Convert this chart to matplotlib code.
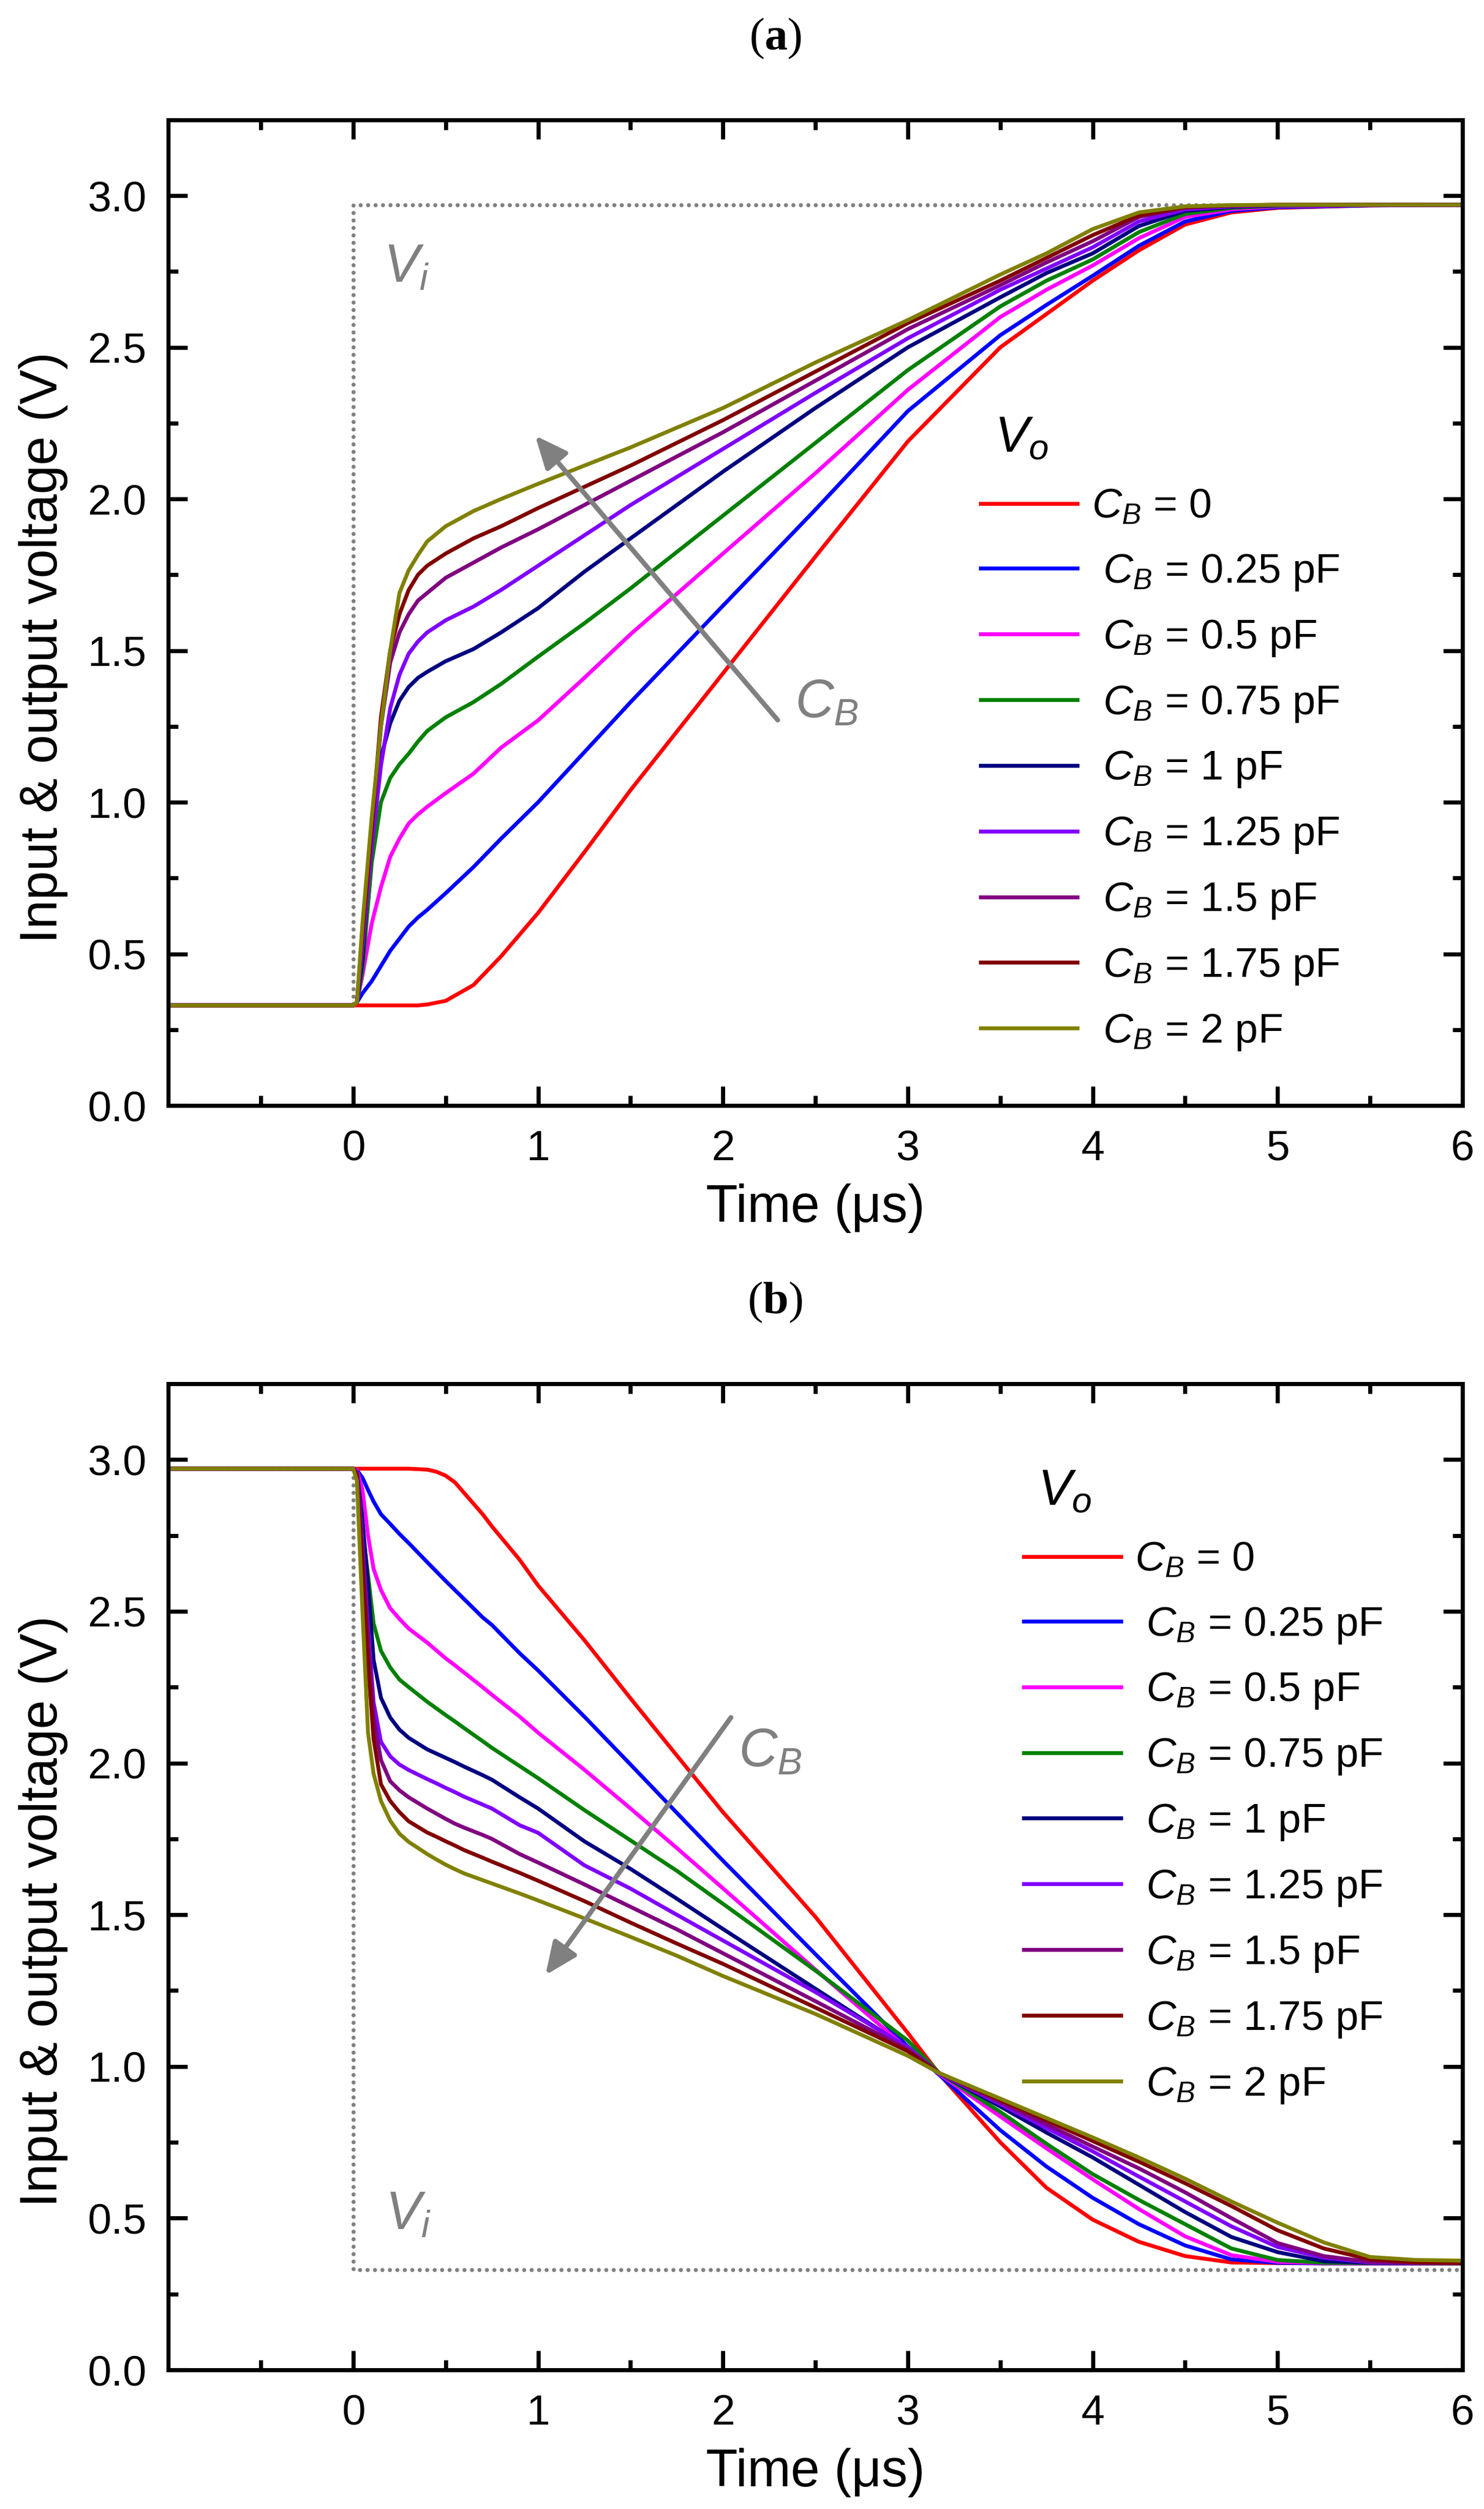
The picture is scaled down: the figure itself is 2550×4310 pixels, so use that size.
import matplotlib
matplotlib.use("Agg")
import matplotlib.pyplot as plt
import numpy as np
from matplotlib.ticker import FormatStrFormatter

plt.rcParams['font.family'] = ['Liberation Sans', 'DejaVu Sans']
plt.rcParams['mathtext.fontset'] = 'custom'
plt.rcParams['mathtext.rm'] = 'Liberation Sans'
plt.rcParams['mathtext.it'] = 'Liberation Sans:italic'
plt.rcParams['mathtext.bf'] = 'Liberation Serif:bold'

# ---------------- data ----------------
labels = [r'$C_B$ = 0', r' $C_B$ = 0.25 pF', r' $C_B$ = 0.5 pF', r' $C_B$ = 0.75 pF',
          r' $C_B$ = 1 pF', r' $C_B$ = 1.25 pF', r' $C_B$ = 1.5 pF', r' $C_B$ = 1.75 pF',
          r' $C_B$ = 2 pF']
colors = ['#FF0000', '#0000FF', '#FF00FF', '#008000', '#000080',
          '#8000FF', '#800080', '#800000', '#808000']

# input step (V_i)
vi_t_a = [-1, 0, 0, 6]
vi_v_a = [0.33, 0.33, 2.97, 2.97]
vi_t_b = [-1, 0, 0, 6]
vi_v_b = [2.97, 2.97, 0.33, 0.33]

# panel (a): rising output
t_a = [-1, 0, 0.02, 0.05, 0.1, 0.15, 0.2, 0.25, 0.3, 0.35, 0.4, 0.5, 0.65, 0.8, 1.0, 1.25,
       1.5, 2.0, 2.5, 3.0, 3.5, 3.75, 4.0, 4.25, 4.5, 4.75, 5.0, 5.5, 6.0]
va_0 = [.33, .33, .33, .33, .33, .33, .33, .33, .33, .33, .333, .345, .397, .492, .635, .835,
        1.04, 1.425, 1.81, 2.19, 2.50, 2.61, 2.72, 2.82, 2.905, 2.945, 2.96, 2.968, 2.97]
va_025 = [.33, .33, .34, .37, .41, .46, .51, .55, .59, .62, .645, .70, .786, .88, 1.0, 1.165,
          1.33, 1.648, 1.965, 2.29, 2.54, 2.64, 2.736, 2.835, 2.915, 2.95, 2.962, 2.968, 2.97]
va_05 = [.33, .33, .34, .43, .60, .72, .82, .88, .93, .96, .985, 1.03, 1.094, 1.18, 1.27, 1.41,
         1.554, 1.82, 2.085, 2.36, 2.60, 2.69, 2.77, 2.86, 2.93, 2.955, 2.965, 2.969, 2.97]
va_075 = [.33, .33, .34, .45, .80, 1.00, 1.08, 1.125, 1.16, 1.20, 1.235, 1.28, 1.33, 1.39,
          1.48, 1.59, 1.705, 1.945, 2.185, 2.425, 2.635, 2.72, 2.79, 2.88, 2.94, 2.96, 2.967,
          2.97, 2.97]
va_1 = [.33, .33, .34, .48, .90, 1.15, 1.26, 1.335, 1.38, 1.41, 1.43, 1.465, 1.505, 1.56, 1.64,
        1.76, 1.87, 2.09, 2.30, 2.50, 2.665, 2.745, 2.81, 2.90, 2.95, 2.963, 2.968, 2.97, 2.97]
va_125 = [.33, .33, .34, .52, .85, 1.12, 1.31, 1.42, 1.49, 1.53, 1.56, 1.60, 1.645, 1.70,
          1.78, 1.88, 1.98, 2.165, 2.35, 2.53, 2.69, 2.76, 2.83, 2.915, 2.955, 2.965, 2.969,
          2.97, 2.97]
va_15 = [.33, .33, .34, .55, .90, 1.25, 1.46, 1.56, 1.62, 1.665, 1.69, 1.74, 1.79, 1.84, 1.90,
         1.98, 2.06, 2.22, 2.39, 2.56, 2.705, 2.78, 2.85, 2.93, 2.96, 2.967, 2.97, 2.97, 2.97]
va_175 = [.33, .33, .34, .57, .92, 1.28, 1.50, 1.62, 1.70, 1.75, 1.78, 1.82, 1.87, 1.91, 1.97,
          2.04, 2.11, 2.26, 2.42, 2.58, 2.72, 2.795, 2.87, 2.935, 2.963, 2.968, 2.97, 2.97,
          2.97]
va_2 = [.33, .33, .34, .60, .95, 1.25, 1.50, 1.69, 1.765, 1.815, 1.86, 1.91, 1.96, 2.0, 2.05,
        2.11, 2.17, 2.30, 2.45, 2.59, 2.74, 2.81, 2.89, 2.945, 2.965, 2.969, 2.97, 2.97, 2.97]

# panel (b): falling output
t_b = [-1, 0, .02, .05, .08, .11, .15, .2, .25, .3, .4, .45, .5, .55, .6, .7, .75, .9, 1.0,
       1.25, 1.5, 1.75, 2.0, 2.5, 3.0, 3.17, 3.5, 3.75, 4.0, 4.25, 4.5, 4.75, 5.0, 5.25, 5.5,
       5.75, 6.0]
vb_0 = [2.97, 2.97, 2.97, 2.97, 2.97, 2.97, 2.97, 2.97, 2.97, 2.97, 2.967, 2.96, 2.947, 2.925,
        2.89, 2.82, 2.78, 2.67, 2.585, 2.405, 2.213, 2.025, 1.838, 1.493, 1.11, 0.975, 0.75,
        0.60, 0.495, 0.422, 0.375, 0.354, 0.352, 0.351, 0.351, 0.351, 0.351]
vb_025 = [2.97, 2.97, 2.965, 2.94, 2.90, 2.862, 2.82, 2.788, 2.755, 2.725, 2.662, 2.631, 2.60,
          2.57, 2.54, 2.48, 2.455, 2.362, 2.305, 2.153, 1.995, 1.836, 1.678, 1.37, 1.065, 0.972,
          0.79, 0.67, 0.567, 0.48, 0.41, 0.364, 0.353, 0.351, 0.351, 0.351, 0.351]
vb_05 = [2.97, 2.97, 2.965, 2.90, 2.75, 2.64, 2.57, 2.51, 2.475, 2.443, 2.397, 2.371, 2.345,
         2.322, 2.298, 2.25, 2.225, 2.153, 2.10, 1.978, 1.85, 1.72, 1.587, 1.319, 1.057, 0.975,
         0.835, 0.73, 0.628, 0.53, 0.44, 0.378, 0.356, 0.352, 0.351, 0.351, 0.351]
vb_075 = [2.97, 2.97, 2.96, 2.77, 2.62, 2.46, 2.37, 2.315, 2.275, 2.25, 2.202, 2.18, 2.158,
          2.137, 2.115, 2.072, 2.05, 1.99, 1.95, 1.845, 1.745, 1.645, 1.536, 1.316, 1.085,
          0.978, 0.85, 0.745, 0.645, 0.56, 0.48, 0.40, 0.362, 0.353, 0.352, 0.351, 0.351]
vb_1 = [2.97, 2.97, 2.96, 2.80, 2.59, 2.34, 2.215, 2.15, 2.11, 2.083, 2.045, 2.031, 2.017,
        2.003, 1.988, 1.96, 1.945, 1.887, 1.85, 1.742, 1.651, 1.553, 1.453, 1.256, 1.06, 0.977,
        0.868, 0.782, 0.70, 0.61, 0.52, 0.438, 0.388, 0.358, 0.353, 0.352, 0.352]
vb_125 = [2.97, 2.97, 2.96, 2.72, 2.45, 2.20, 2.07, 2.022, 1.995, 1.977, 1.947, 1.933, 1.918,
          1.904, 1.889, 1.863, 1.85, 1.795, 1.77, 1.663, 1.586, 1.50, 1.415, 1.245, 1.063,
          0.977, 0.876, 0.797, 0.72, 0.637, 0.555, 0.473, 0.405, 0.37, 0.354, 0.352, 0.352]
vb_15 = [2.97, 2.97, 2.955, 2.70, 2.42, 2.15, 2.01, 1.94, 1.91, 1.887, 1.85, 1.833, 1.816,
         1.80, 1.787, 1.763, 1.75, 1.70, 1.672, 1.60, 1.526, 1.452, 1.373, 1.215, 1.056, 0.978,
         0.882, 0.809, 0.736, 0.664, 0.585, 0.50, 0.418, 0.375, 0.356, 0.353, 0.352]
vb_175 = [2.97, 2.97, 2.95, 2.65, 2.33, 2.08, 1.93, 1.875, 1.838, 1.808, 1.771, 1.757, 1.742,
          1.728, 1.713, 1.688, 1.675, 1.638, 1.612, 1.545, 1.474, 1.405, 1.338, 1.194, 1.05,
          0.978, 0.889, 0.822, 0.754, 0.686, 0.615, 0.54, 0.46, 0.40, 0.364, 0.354, 0.352]
vb_2 = [2.97, 2.97, 2.93, 2.50, 2.10, 1.965, 1.875, 1.81, 1.767, 1.74, 1.70, 1.682, 1.665,
        1.65, 1.636, 1.614, 1.603, 1.57, 1.547, 1.488, 1.427, 1.365, 1.298, 1.173, 1.035,
        0.978, 0.894, 0.83, 0.766, 0.70, 0.63, 0.555, 0.485, 0.42, 0.372, 0.362, 0.36]

series_a = [va_0, va_025, va_05, va_075, va_1, va_125, va_15, va_175, va_2]
series_b = [vb_0, vb_025, vb_05, vb_075, vb_1, vb_125, vb_15, vb_175, vb_2]

# ---------------- figure ----------------
W, H = 2550, 4310
fig = plt.figure(figsize=(W / 300, H / 300), dpi=300)

GRAY = '#808080'


def setup_axes(ax):
    ax.set_xlim(-1, 6)
    ax.set_ylim(0, 3.25)
    ax.set_xticks(np.arange(0, 7, 1))
    ax.set_xticks(np.arange(-0.5, 6, 1.0), minor=True)
    ax.set_yticks(np.arange(0, 3.01, 0.5))
    ax.set_yticks(np.arange(0.25, 3.3, 0.5), minor=True)
    ax.yaxis.set_major_formatter(FormatStrFormatter('%.1f'))
    ax.tick_params(which='both', direction='in', top=True, right=True, width=1.7,
                   labelsize=17.5)
    ax.tick_params(which='major', length=7.9)
    ax.tick_params(which='minor', length=4.1)
    ax.tick_params(axis='x', pad=10)
    ax.tick_params(axis='y', pad=9)
    for s in ax.spines.values():
        s.set_linewidth(1.7)
    ax.set_xlabel('Time (μs)', fontsize=21.5)
    ax.set_ylabel('Input & output voltage (V)', fontsize=21.5)
    ax.xaxis.set_label_coords(0.5, -0.079)
    ax.yaxis.set_label_coords(-0.0775, 0.465)


def draw_panel(ax, t, series, vi_t, vi_v, leg_anchor, arrow_tail, arrow_head,
               cb_pos, vi_pos):
    ax.plot(vi_t, vi_v, color=GRAY, lw=1.7, linestyle=(0, (0.01, 1.8)),
            dash_capstyle='round')
    handles = []
    for v, c in zip(series, colors):
        h, = ax.plot(t, v, color=c, lw=1.6, solid_joinstyle='round')
        handles.append(h)
    setup_axes(ax)
    ax.legend(handles, labels, title=r' $V_o$', loc='upper left',
              bbox_to_anchor=leg_anchor, frameon=False, fontsize=17,
              title_fontsize=21, handlelength=2.35, handletextpad=0.35,
              labelspacing=0.62, borderpad=0, borderaxespad=0, alignment='left')
    ax.annotate('', xy=arrow_head, xytext=arrow_tail,
                arrowprops=dict(arrowstyle='-|>,head_length=0.8,head_width=0.35',
                                color=GRAY, lw=2.0, mutation_scale=14,
                                shrinkA=0, shrinkB=0))
    ax.text(cb_pos[0], cb_pos[1], r'$C_B$', color=GRAY, fontsize=22, va='baseline')
    ax.text(vi_pos[0], vi_pos[1], r'$V_i$', color=GRAY, fontsize=22, va='baseline')


left = 289.3 / W
width = 2223.7 / W
ax_a = fig.add_axes([left, 1 - 1899 / H, width, 1693 / H])
ax_b = fig.add_axes([left, 1 - 4071 / H, width, 1694 / H])

draw_panel(ax_a, t_a, series_a, vi_t_a, vi_v_a, (0.6276, 0.700),
           (2.296, 1.271), (0.984, 2.209), (2.39, 1.28), (0.164, 2.716))
draw_panel(ax_b, t_b, series_b, vi_t_b, vi_v_b, (0.661, 0.914),
           (2.043, 2.15), (1.04, 1.301), (2.083, 1.989), (0.173, 0.463))

fig.text(1332 / W, 1 - 66 / H, r'($\mathbf{a}$)', family='Liberation Serif',
         fontsize=19, ha='center', va='center')
fig.text(1332 / W, 1 - 2237 / H, r'($\mathbf{b}$)', family='Liberation Serif',
         fontsize=19, ha='center', va='center')

fig.savefig('out.png', dpi=300)
